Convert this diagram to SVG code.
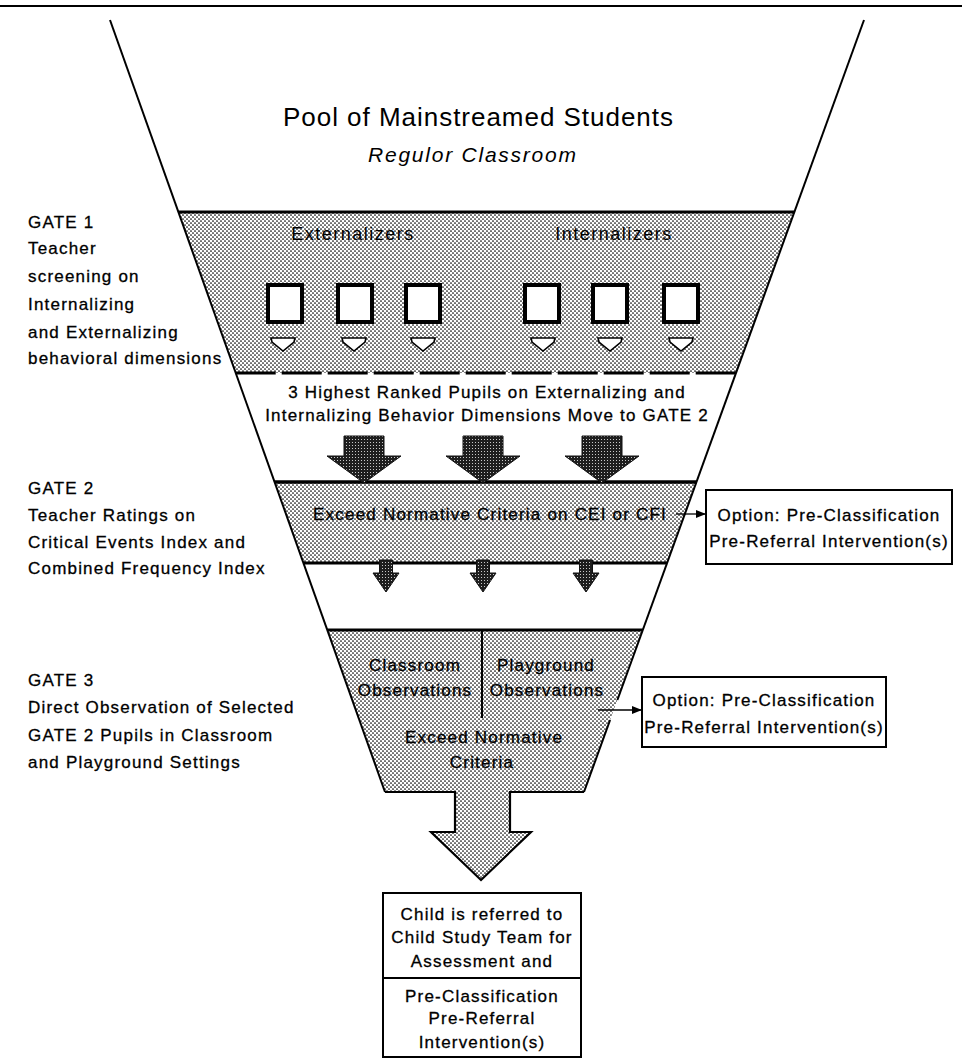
<svg xmlns="http://www.w3.org/2000/svg" width="962" height="1059" viewBox="0 0 962 1059">
<style>
text{font-family:"Liberation Sans",Arial,Helvetica,sans-serif;fill:#000}
.lbl{font-size:17px;letter-spacing:1.2px;stroke:#000;stroke-width:0.3}
.mid{font-size:17px;letter-spacing:1.2px;text-anchor:middle;stroke:#000;stroke-width:0.3}
.head{font-size:18px;letter-spacing:1.5px;text-anchor:middle}
.edge{stroke:#000;fill:none}
.box{fill:#fff;stroke:#000;stroke-width:4}
.wa{fill:#fff;stroke:#000;stroke-width:1.6;stroke-linejoin:miter}
.da{fill:url(#dark);stroke:#111;stroke-width:1}
.node{fill:#fff;stroke:#000;stroke-width:2}
.conn{stroke:#000;stroke-width:1.3;fill:none}
</style>
<defs>
<pattern id="dots" width="4" height="4" patternUnits="userSpaceOnUse">
<rect width="4" height="4" fill="#fff"/>
<circle cx="1" cy="1" r="0.85" fill="#000"/>
<circle cx="3" cy="3" r="0.85" fill="#000"/>
</pattern>
<pattern id="dark" width="3" height="3" patternUnits="userSpaceOnUse">
<rect width="3" height="3" fill="#1e1e1e"/>
<rect x="1" y="1" width="1" height="1" fill="#c8c8c8"/>
</pattern>
<marker id="ah" markerWidth="10" markerHeight="8" refX="10" refY="4" orient="auto" markerUnits="userSpaceOnUse">
<path d="M0,0 L10,4 L0,8 Z" fill="#000"/>
</marker>
</defs>
<rect width="962" height="1059" fill="#fff"/>

<g id="funnel">
<line class="edge" x1="0" y1="6" x2="962" y2="6" stroke-width="2"/>
<text x="478" y="126" font-size="26" text-anchor="middle" textLength="390" lengthAdjust="spacing">Pool of Mainstreamed Students</text>
<text x="472" y="162" font-size="21" font-style="italic" text-anchor="middle" textLength="208" lengthAdjust="spacing">Regulor Classroom</text>
</g>

<g id="gate1">
<polygon points="178.4,212 794.4,212 736,373 235.7,373" fill="url(#dots)"/>
<line class="edge" x1="178.4" y1="212" x2="794.4" y2="212" stroke-width="3"/>
<line class="edge" x1="235.7" y1="373" x2="736" y2="373" stroke-width="3" stroke-dasharray="40 6"/>
<text class="head" x="353" y="240">Externalizers</text>
<text class="head" x="614" y="240">Internalizers</text>
<rect class="box" x="268" y="285" width="34" height="37"/>
<rect class="box" x="338" y="285" width="34" height="37"/>
<rect class="box" x="406" y="285" width="34" height="37"/>
<rect class="box" x="525" y="285" width="34" height="37"/>
<rect class="box" x="593" y="285" width="34" height="37"/>
<rect class="box" x="664" y="285" width="34" height="37"/>
<path class="wa" d="M271,338 H295 L294,342 L283,351 L272,342 Z"/>
<path class="wa" d="M342,338 H366 L365,342 L354,351 L343,342 Z"/>
<path class="wa" d="M411,338 H435 L434,342 L423,351 L412,342 Z"/>
<path class="wa" d="M531,338 H555 L554,342 L543,351 L532,342 Z"/>
<path class="wa" d="M598,338 H622 L621,342 L610,351 L599,342 Z"/>
<path class="wa" d="M669,338 H693 L692,342 L681,351 L670,342 Z"/>
</g>

<g id="labels">
<text class="lbl" x="28" y="228">GATE 1</text>
<text class="lbl" x="28" y="254">Teacher</text>
<text class="lbl" x="28" y="282">screening on</text>
<text class="lbl" x="28" y="310">Internalizing</text>
<text class="lbl" x="28" y="338">and Externalizing</text>
<text class="lbl" x="28" y="364">behavioral dimensions</text>
<text class="lbl" x="28" y="494">GATE 2</text>
<text class="lbl" x="28" y="521">Teacher Ratings on</text>
<text class="lbl" x="28" y="548">Critical Events Index and</text>
<text class="lbl" x="28" y="574">Combined Frequency Index</text>
<text class="lbl" x="28" y="686">GATE 3</text>
<text class="lbl" x="28" y="713">Direct Observation of Selected</text>
<text class="lbl" x="28" y="741">GATE 2 Pupils in Classroom</text>
<text class="lbl" x="28" y="768">and Playground Settings</text>
</g>

<g id="move">
<text class="mid" x="487" y="398">3 Highest Ranked Pupils on Externalizing and</text>
<text class="mid" x="487" y="421">Internalizing Behavior Dimensions Move to GATE 2</text>
</g>

<g id="gate2">
<polygon points="274.6,482 696.4,482 667.1,563 303.4,563" fill="url(#dots)"/>
<line class="edge" x1="274.6" y1="482" x2="696.4" y2="482" stroke-width="3.5"/>
<line class="edge" x1="303.4" y1="563" x2="667.1" y2="563" stroke-width="3"/>
<path class="da" d="M344,436 H384 V456 H401 L364,483 L327,456 H344 Z"/>
<path class="da" d="M463,436 H503 V456 H520 L483,483 L446,456 H463 Z"/>
<path class="da" d="M582,436 H622 V456 H639 L602,483 L565,456 H582 Z"/>
<text class="mid" x="490" y="520">Exceed Normative Criteria on CEI or CFI</text>
<path class="da" d="M379.5,560 H392.5 V573 H399 L386,592 L373,573 H379.5 Z"/>
<path class="da" d="M476.5,560 H489.5 V573 H496 L483,592 L470,573 H476.5 Z"/>
<path class="da" d="M579.5,560 H592.5 V573 H599 L586,592 L573,573 H579.5 Z"/>
</g>

<g id="gate3">
<path d="M327.3,630 H642.8 L584,792 H510 V832 H531 L481,880 L431,832 H455 V792 H385 Z" fill="url(#dots)"/>
<line class="edge" x1="327.3" y1="630" x2="642.8" y2="630" stroke-width="3"/>
<path class="edge" stroke-width="2.2" d="M385,792 H455 V832 H431 L481,880 L531,832 H510 V792 H584"/>
<line class="edge" x1="482" y1="630" x2="482" y2="718" stroke-width="2"/>
<text class="mid" x="415" y="671">Classroom</text>
<text class="mid" x="415" y="696">Observations</text>
<text class="mid" x="546" y="671">Playground</text>
<text class="mid" x="547" y="696">Observations</text>
<text class="mid" x="484" y="743">Exceed Normative</text>
<text class="mid" x="482" y="768">Criteria</text>
</g>

<g id="funnel-sides">
<line class="edge" x1="110" y1="20" x2="385" y2="792" stroke-width="2"/>
<line class="edge" x1="864" y1="20" x2="617.4" y2="700" stroke-width="2"/>
<line class="edge" x1="610.1" y1="720" x2="584" y2="792" stroke-width="2"/>
</g>

<g id="option1">
<rect class="node" x="706" y="490" width="246" height="74"/>
<text class="mid" x="829" y="521">Option: Pre-Classification</text>
<text class="mid" x="829" y="547">Pre-Referral Intervention(s)</text>
</g>

<g id="option2">
<rect class="node" x="642" y="677" width="244" height="70"/>
<text class="mid" x="764" y="706">Option: Pre-Classification</text>
<text class="mid" x="764" y="733">Pre-Referral Intervention(s)</text>
</g>

<g id="referral">
<rect class="node" x="383" y="893" width="198" height="164"/>
<line class="edge" x1="383" y1="978" x2="581" y2="978" stroke-width="2"/>
<text class="mid" x="482" y="920">Child is referred to</text>
<text class="mid" x="482" y="943">Child Study Team for</text>
<text class="mid" x="482" y="967">Assessment and</text>
<text class="mid" x="482" y="1002">Pre-Classification</text>
<text class="mid" x="482" y="1024">Pre-Referral</text>
<text class="mid" x="482" y="1048">Intervention(s)</text>
</g>

<g id="connectors">
<line class="conn" x1="676" y1="514" x2="706" y2="514" marker-end="url(#ah)"/>
<line class="conn" x1="598" y1="710" x2="642" y2="710" marker-end="url(#ah)"/>
</g>
</svg>
